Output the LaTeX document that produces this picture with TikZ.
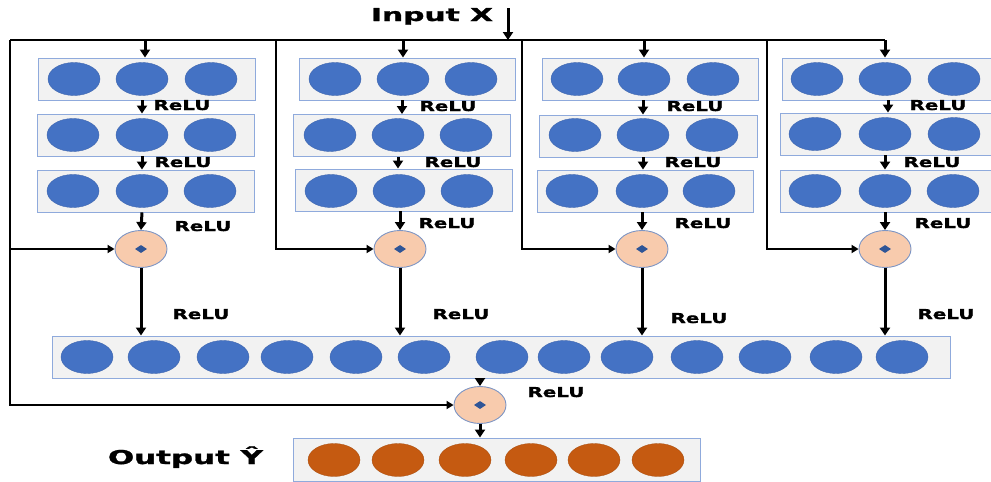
\documentclass[tikz,border=0pt]{standalone}
\usepackage{fontspec}
\usepackage{graphicx}
\setmainfont{DejaVu Sans}
\newfontfamily\lblfont[FakeBold=1.2]{DejaVu Sans Bold}
\usetikzlibrary{arrows.meta,shapes.geometric}
\definecolor{nblue}{HTML}{4472C4}
\definecolor{nblueb}{HTML}{3F66AE}
\definecolor{norange}{HTML}{C55A11}
\definecolor{boxfill}{HTML}{F2F2F2}
\definecolor{boxline}{HTML}{8FAADC}
\definecolor{addfill}{HTML}{F8CBAD}
\definecolor{addline}{HTML}{7D95C4}
\definecolor{dotblue}{HTML}{2F5597}
\newcommand{\wtxt}[3]{\resizebox{#1}{\height}{\fontsize{#2}{#2}\selectfont\lblfont #3}}
\tikzset{
  neuron/.style={ellipse, draw=nblueb, line width=0.4pt, fill=nblue, minimum width=52pt, minimum height=33pt, inner sep=0pt},
  oneuron/.style={ellipse, draw=norange!85!black, line width=0.3pt, fill=norange, minimum width=52pt, minimum height=33pt, inner sep=0pt},
  layerbox/.style={rectangle, draw=boxline, line width=0.9pt, fill=boxfill, minimum height=42pt, inner sep=0pt},
  adder/.style={ellipse, draw=addline, line width=0.9pt, fill=addfill, minimum width=52pt, minimum height=37pt, inner sep=0pt},
  adddot/.style={diamond, fill=dotblue, minimum width=12pt, minimum height=8pt, inner sep=0pt},
  relu/.style={anchor=base, inner sep=0pt, text=black},
  arr/.style={line width=3pt, -{Triangle[width=10pt,length=8pt]}},
  feed/.style={line width=2.3pt, -{Triangle[width=8pt,length=7pt]}},
  bus/.style={line width=2.3pt},
}
\begin{document}
\begin{tikzpicture}[x=1pt,y=-1pt]
\useasboundingbox (0,0) rectangle (991,482);
\clip (0,0) rectangle (991,482);

% ---------- column layer boxes ----------
\node[layerbox, minimum width=217pt] (b11) at (146.5,79) {};
\node[layerbox, minimum width=217pt] (b12) at (145.5,135) {};
\node[layerbox, minimum width=217pt] (b13) at (145.5,191) {};
\node[layerbox, minimum width=216pt] (b21) at (407,79) {};
\node[layerbox, minimum width=217pt] (b22) at (401.5,135.5) {};
\node[layerbox, minimum width=217pt] (b23) at (403.5,190) {};
\node[layerbox, minimum width=216pt] (b31) at (650,79) {};
\node[layerbox, minimum width=218pt] (b32) at (648,136) {};
\node[layerbox, minimum width=216pt] (b33) at (645,191) {};
\node[layerbox, minimum width=217pt] (b41) at (890.5,79) {};
\node[layerbox, minimum width=217pt] (b42) at (888.5,134) {};
\node[layerbox, minimum width=217pt] (b43) at (888.5,191) {};

% ---------- column neurons ----------
\node[neuron] (n111) at (74,79) {};
\node[neuron] (n112) at (142,79) {};
\node[neuron] (n113) at (211,79) {};
\node[neuron] (n121) at (73,135) {};
\node[neuron] (n122) at (142,135) {};
\node[neuron] (n123) at (210,135) {};
\node[neuron] (n131) at (73,191) {};
\node[neuron] (n132) at (142,191) {};
\node[neuron] (n133) at (210,191) {};

\node[neuron] (n211) at (335,79) {};
\node[neuron] (n212) at (403,79) {};
\node[neuron] (n213) at (471,79) {};
\node[neuron] (n221) at (330,135) {};
\node[neuron] (n222) at (398,135) {};
\node[neuron] (n223) at (466,135) {};
\node[neuron] (n231) at (331,191) {};
\node[neuron] (n232) at (399,191) {};
\node[neuron] (n233) at (467,191) {};

\node[neuron] (n311) at (577,79) {};
\node[neuron] (n312) at (644,79) {};
\node[neuron] (n313) at (713,79) {};
\node[neuron] (n321) at (575,135) {};
\node[neuron] (n322) at (643,135) {};
\node[neuron] (n323) at (712,135) {};
\node[neuron] (n331) at (572,191) {};
\node[neuron] (n332) at (642,191) {};
\node[neuron] (n333) at (709,191) {};

\node[neuron] (n411) at (817,79) {};
\node[neuron] (n412) at (885,79) {};
\node[neuron] (n413) at (954,79) {};
\node[neuron] (n421) at (815,134) {};
\node[neuron] (n422) at (885,134) {};
\node[neuron] (n423) at (954,134) {};
\node[neuron] (n431) at (815,191) {};
\node[neuron] (n432) at (885,191) {};
\node[neuron] (n433) at (953,191) {};

% ---------- adders ----------
\node[adder] (a1) at (141,249) {};
\node[adder] (a2) at (400,249) {};
\node[adder] (a3) at (642,249) {};
\node[adder] (a4) at (885,249) {};
\node[adder] (af) at (480,405) {};
\node[adddot] (d1) at (a1) {};
\node[adddot] (d2) at (a2) {};
\node[adddot] (d3) at (a3) {};
\node[adddot] (d4) at (a4) {};
\node[adddot] (df) at (af) {};

% ---------- merged layer ----------
\node[layerbox, minimum width=898pt] (m) at (501,357) {};
\foreach \i/\x in {1/87,2/154,3/223,4/287,5/356,6/424,7/502,8/564,9/627,10/697,11/765,12/836,13/902}
  \node[neuron] (m\i) at (\x,357) {};

% ---------- output layer ----------
\node[layerbox, minimum width=407pt, minimum height=43pt] (o) at (496.5,459.5) {};
\foreach \i/\x in {1/334,2/398,3/465,4/531,5/594,6/658}
  \node[oneuron] (o\i) at (\x,460) {};

% ---------- texts ----------
\node[anchor=base, inner sep=0pt] (tin) at (432,21) {\wtxt{122pt}{17.8pt}{Input X}};
\node[anchor=base, inner sep=0pt] (tout) at (185.5,464) {\wtxt{155pt}{19pt}{Output Ŷ}};

\foreach \nm/\x/\y in {r11/182/110, r12/183/167, r13/203/231, r14/201/319,
                        r21/448/111, r22/453/167, r23/447/228, r24/461/319,
                        r31/695/111, r32/693/167, r33/703/228, r34/699/323,
                        r41/938/110, r42/932/167, r43/943/228, r44/946/319,
                        rf/556/397}
  \node[relu] (\nm) at (\x,\y) {\wtxt{57pt}{13.7pt}{ReLU}};

% ---------- coordinates of the input bus ----------
\coordinate (inx) at (508,8);
\coordinate (v1) at (10,40);
\coordinate (v2) at (276,40);
\coordinate (v3) at (522,40);
\coordinate (v4) at (767,40);

% input arrow and bus
\draw[arr] (inx) -- (inx |- v1);
\draw[bus] (v1) -- (n412 |- v1);
\draw[arr] (n412 |- v1) -- (n412 |- b41.north);
\draw[arr] (145,40) -- (145,0 |- b11.north);
\draw[arr] (n212 |- v1) -- (n212 |- b21.north);
\draw[arr] (n312 |- v1) -- (n312 |- b31.north);

% inside the columns
\draw[arr] (b11.south -| n112) -- (b12.north -| n112);
\draw[arr] (b12.south -| n122) -- (b13.north -| n122);
\draw[arr] (b13.south -| n132) -- (a1.north);
\draw[arr] (b21.south -| 402,0) -- (b22.north -| 402,0);
\draw[arr] (b22.south -| n222) -- (b23.north -| n222);
\draw[arr] (b23.south -| a2) -- (a2.north);
\draw[arr] (b31.south -| n322) -- (b32.north -| n322);
\draw[arr] (b32.south -| n322) -- (b33.north -| n322);
\draw[arr] (b33.south -| a3) -- (a3.north);
\draw[arr] (b41.south -| 888,0) -- (b42.north -| 888,0);
\draw[arr] (b42.south -| n422) -- (b43.north -| n422);
\draw[arr] (b43.south -| a4) -- (a4.north);

% skip connections
\draw[feed] (v1) |- (af.west);
\draw[feed] (v1 |- a1) -- (a1.west);
\draw[feed] (v2) |- (a2.west);
\draw[feed] (v3) |- (a3.west);
\draw[feed] (v4) |- (a4.west);

% adders to merged layer
\draw[arr] (a1.south) -- (a1.south |- m.north);
\draw[arr] (a2.south) -- (a2.south |- m.north);
\draw[arr] (a3.south) -- (a3.south |- m.north);
\draw[arr] (a4.south) -- (a4.south |- m.north);

% merged to final adder to output
\draw[arr] (m.south -| af) -- (af.north);
\draw[arr] (af.south) -- (af.south |- o.north);
\end{tikzpicture}
\end{document}
